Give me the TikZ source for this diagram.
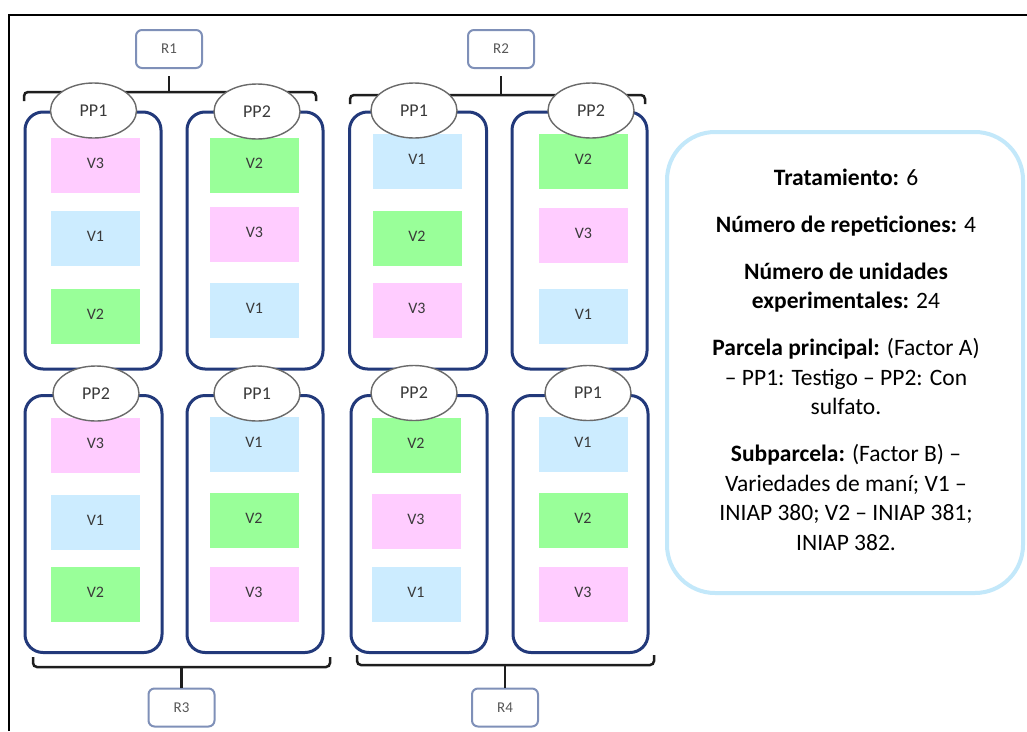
\documentclass[tikz,border=0pt]{standalone}
\usepackage{fontspec}
\setmainfont{Carlito}
\usetikzlibrary{shapes.geometric}
\definecolor{pinkV}{HTML}{FFCCFF}
\definecolor{blueV}{HTML}{CCECFF}
\definecolor{greenV}{HTML}{99FF99}
\definecolor{navyC}{HTML}{22397A}
\definecolor{ellC}{HTML}{6A6A6A}
\definecolor{rboxC}{HTML}{7F90B8}
\definecolor{infoC}{HTML}{C3E8FA}
\definecolor{labC}{HTML}{3A3A3A}
\definecolor{brkC}{HTML}{1E1E1E}
\tikzset{
  cont/.style={draw=navyC, line width=3pt, rounded corners=18pt, fill=white, inner sep=0pt, minimum height=257pt},
  ppell/.style={ellipse, draw=ellC, line width=1.4pt, fill=white, inner sep=0pt, minimum width=86pt, minimum height=55pt, text=labC, font=\fontsize{18}{18}\selectfont},
  vcell/.style={rectangle, inner sep=0pt, minimum width=89pt, minimum height=55pt, text=labC, font=\fontsize{16}{16}\selectfont},
  rbox/.style={rectangle, draw=rboxC, line width=2pt, rounded corners=6pt, fill=white, inner sep=0pt, minimum width=66pt, minimum height=38pt, text=labC!85, font=\fontsize{15}{15}\selectfont},
  brk/.style={draw=brkC, line width=2.5pt},
  infobox/.style={draw=infoC, line width=4pt, rounded corners=48pt, fill=white, inner sep=0pt, minimum width=356pt, minimum height=461pt},
  infotext/.style={align=center, inner sep=0pt, text=black, font=\fontsize{23.5}{29.5}\selectfont}
}
\newcommand\vcell[5]{\node[vcell, fill=#2] (#1) at (#3,#4) {\raisebox{4pt}{#5}};}
\begin{document}
\begin{tikzpicture}[x=1pt,y=-1pt]
\useasboundingbox (0,0) rectangle (1027,731);
% frame
\draw[black, line width=2.6pt] (9,731) -- (9,15) -- (1027,15);

% R boxes
\node[rbox] (R1) at (169,49) {R1};
\node[rbox] (R2) at (501,49) {R2};
\node[rbox] (R3) at (181.5,707.5) {R3};
\node[rbox] (R4) at (505,707.5) {R4};

% brackets
\coordinate (b1) at (169,92);
\coordinate (b2) at (501,95);
\coordinate (b3) at (181.5,667);
\coordinate (b4) at (505,665);
\draw[brk, rounded corners=4pt] (24,101) -- (24,92) -- (316,92) -- (316,101);
\draw[brk, shorten <=7pt] (R1) -- (b1);
\draw[brk, rounded corners=4pt] (350,104) -- (350,95) -- (645,95) -- (645,104);
\draw[brk, shorten <=7pt] (R2) -- (b2);
\draw[brk, rounded corners=4pt] (33,657) -- (33,667) -- (330,667) -- (330,657);
\draw[brk] (R3) -- (b3);
\draw[brk, rounded corners=4pt] (357,655) -- (357,665) -- (654,665) -- (654,655);
\draw[brk] (R4) -- (b4);

% containers
\node[cont, minimum width=136pt] (c1L) at (93,240.5) {};
\node[cont, minimum width=136pt] (c1R) at (255,240.5) {};
\node[cont, minimum width=137pt] (c2L) at (418,240.5) {};
\node[cont, minimum width=135pt] (c2R) at (579.5,240.5) {};
\node[cont, minimum width=137pt] (c3L) at (93.5,524) {};
\node[cont, minimum width=136pt] (c3R) at (255,524) {};
\node[cont, minimum width=136pt] (c4L) at (419,524) {};
\node[cont, minimum width=135pt] (c4R) at (580.5,524) {};

% V cells
\vcell{a1}{pinkV}{95.5}{165.5}{V3}
\vcell{a2}{blueV}{95.5}{238}{V1}
\vcell{a3}{greenV}{95.5}{316.5}{V2}
\vcell{b1c}{greenV}{254.5}{165.5}{V2}
\vcell{b2c}{pinkV}{254.5}{234.5}{V3}
\vcell{b3c}{blueV}{254.5}{310}{V1}
\vcell{c1}{blueV}{417}{161}{V1}
\vcell{c2}{greenV}{417}{238}{V2}
\vcell{c3}{pinkV}{417}{310}{V3}
\vcell{d1}{greenV}{583.5}{161}{V2}
\vcell{d2}{pinkV}{583.5}{235}{V3}
\vcell{d3}{blueV}{583.5}{316.5}{V1}
\vcell{e1}{pinkV}{95.5}{445}{V3}
\vcell{e2}{blueV}{95.5}{522.5}{V1}
\vcell{e3}{greenV}{95.5}{594.5}{V2}
\vcell{f1}{blueV}{254}{444.5}{V1}
\vcell{f2}{greenV}{254}{520}{V2}
\vcell{f3}{pinkV}{254}{594.5}{V3}
\vcell{g1}{greenV}{416}{445}{V2}
\vcell{g2}{pinkV}{416}{521}{V3}
\vcell{g3}{blueV}{416}{594.5}{V1}
\vcell{h1}{blueV}{583}{444.5}{V1}
\vcell{h2}{greenV}{583}{520}{V2}
\vcell{h3}{pinkV}{583}{594.5}{V3}

% PP ellipses
\node[ppell] (p1L) at (93.5,110.5) {PP1};
\node[ppell] (p1R) at (257,111.5) {PP2};
\node[ppell] (p2L) at (414,110.5) {PP1};
\node[ppell] (p2R) at (591,110.5) {PP2};
\node[ppell] (p3L) at (96,393.5) {PP2};
\node[ppell] (p3R) at (257,393.5) {PP1};
\node[ppell] (p4L) at (414,393) {PP2};
\node[ppell] (p4R) at (588,393) {PP1};

% info box
\node[infobox] (info) at (845,362.5) {};
\node[infotext] (infot) at (846,359.5) {%
\textbf{Tratamiento:} 6\\[17.5pt]
\textbf{Número de repeticiones:} 4\\[17.5pt]
\textbf{Número de unidades}\\
\textbf{experimentales:} 24\\[17.5pt]
\textbf{Parcela principal:} (Factor A)\\
– PP1: Testigo – PP2: Con\\
sulfato.\\[17.5pt]
\textbf{Subparcela:} (Factor B) –\\
Variedades de maní; V1 –\\
INIAP 380; V2 – INIAP 381;\\
INIAP 382.};
\end{tikzpicture}
\end{document}
